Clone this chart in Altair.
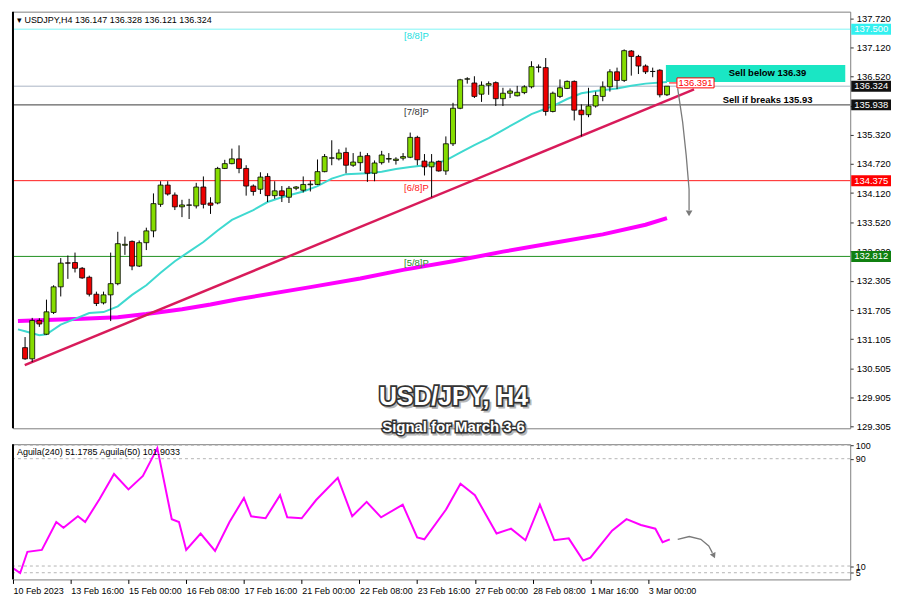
import altair as alt
import pandas as pd

# ---------------- data (H4 bars, index 0 = 10 Feb 2023 08:00) ----------------
bar_idx = list(range(1, 92))
opens = [130.930, 130.699, 131.491, 131.207, 131.656, 132.184, 132.679, 132.686, 132.567, 132.382,
         132.032, 131.854, 132.019, 132.250, 133.042, 133.122, 132.613, 133.095, 133.339, 133.887,
         134.284, 134.079, 133.835, 133.868, 133.854, 134.244, 133.914, 133.914, 134.627, 134.726,
         134.825, 134.627, 134.264, 134.198, 134.462, 134.066, 134.165, 134.033, 134.218, 134.178,
         134.291, 134.297, 134.561, 134.839, 134.825, 134.957, 134.693, 134.746, 134.891, 134.528,
         134.746, 134.819, 134.792, 134.839, 134.858, 135.268, 134.779, 134.660, 134.773, 134.575,
         135.136, 135.868, 136.469, 136.390, 136.159, 136.344, 136.397, 136.066, 136.179, 136.126,
         136.192, 136.311, 136.713, 136.707, 135.802, 136.113, 136.278, 136.423, 135.829, 135.736,
         135.915, 136.113, 136.311, 136.621, 136.443, 137.050, 136.938, 136.740, 136.628, 136.654,
         136.147]
highs = [131.148, 131.544, 131.537, 131.920, 132.217, 132.778, 132.831, 132.891, 132.593, 132.415,
         132.085, 132.085, 132.891, 133.320, 133.221, 133.141, 133.141, 133.405, 134.112, 134.363,
         134.363, 134.132, 133.980, 134.000, 134.330, 134.462, 134.033, 134.660, 134.805, 135.036,
         135.103, 134.693, 134.297, 134.548, 134.528, 134.363, 134.264, 134.264, 134.264, 134.462,
         134.377, 134.812, 134.924, 135.208, 135.023, 135.057, 134.944, 134.971, 134.944, 134.792,
         134.990, 134.944, 134.858, 134.944, 135.367, 135.301, 134.924, 134.924, 134.792, 135.288,
         135.981, 136.476, 136.509, 136.529, 136.423, 136.423, 136.423, 136.291, 136.278, 136.331,
         136.344, 136.839, 136.773, 136.905, 136.212, 136.463, 136.443, 136.443, 135.948, 136.291,
         136.212, 136.423, 136.674, 136.707, 137.083, 137.070, 136.971, 136.773, 136.707, 136.674,
         136.328]
lows = [130.679, 130.633, 131.359, 131.194, 131.623, 131.986, 132.349, 132.481, 132.349, 131.986,
        131.788, 131.821, 131.478, 132.217, 132.844, 132.527, 132.593, 132.943, 133.207, 133.835,
        134.066, 133.769, 133.623, 133.584, 133.802, 133.802, 133.689, 133.887, 134.614, 134.713,
        134.528, 134.066, 134.066, 134.099, 133.934, 134.000, 133.934, 133.914, 134.178, 134.132,
        134.152, 134.284, 134.548, 134.693, 134.792, 134.528, 134.660, 134.575, 134.350, 134.363,
        134.707, 134.746, 134.707, 134.792, 134.839, 134.693, 134.482, 134.033, 134.561, 134.495,
        135.090, 135.849, 136.377, 136.080, 136.000, 136.146, 135.915, 135.915, 136.080, 136.113,
        136.159, 136.278, 136.608, 135.717, 135.783, 136.080, 136.264, 135.617, 135.287, 135.684,
        135.882, 136.014, 136.212, 136.264, 136.410, 136.542, 136.575, 136.575, 136.509, 136.093,
        136.121]
closes = [130.699, 131.491, 131.418, 131.669, 132.184, 132.673, 132.673, 132.567, 132.369, 132.032,
          131.841, 132.019, 132.250, 133.075, 133.062, 132.613, 133.095, 133.339, 133.901, 134.284,
          134.099, 133.835, 133.874, 133.874, 134.244, 133.887, 133.868, 134.627, 134.726, 134.825,
          134.627, 134.264, 134.152, 134.449, 134.066, 134.165, 134.066, 134.218, 134.244, 134.297,
          134.304, 134.561, 134.872, 134.845, 134.944, 134.693, 134.759, 134.878, 134.528, 134.740,
          134.905, 134.832, 134.819, 134.872, 135.268, 134.806, 134.660, 134.759, 134.575, 135.136,
          135.869, 136.456, 136.476, 136.113, 136.344, 136.377, 136.066, 136.179, 136.225, 136.198,
          136.311, 136.727, 136.720, 135.802, 136.179, 136.291, 136.423, 135.829, 135.736, 135.915,
          136.132, 136.311, 136.621, 136.443, 137.057, 136.938, 136.740, 136.621, 136.628, 136.146,
          136.324]

# moving averages
ema_idx = [0, 1, 3, 4, 6, 8, 10, 12, 14, 16, 18, 20, 22, 24, 26, 28, 30, 33, 35, 37, 40, 42, 44, 46,
           49, 51, 53, 55, 58, 60, 62, 64, 66, 68, 70, 72, 75, 77, 79, 81, 84, 86, 88, 91]
ema_val = [131.306, 131.267, 131.187, 131.207, 131.405, 131.524, 131.643, 131.663, 131.782, 132.019,
           132.217, 132.475, 132.712, 132.910, 133.109, 133.346, 133.564, 133.768, 133.934, 134.033,
           134.152, 134.263, 134.416, 134.509, 134.529, 134.560, 134.614, 134.659, 134.707, 134.792,
           134.951, 135.109, 135.254, 135.420, 135.584, 135.749, 135.915, 136.060, 136.178, 136.224,
           136.278, 136.331, 136.377, 136.410]
sma_idx = [0, 5, 9, 14, 18, 23, 27, 31, 41, 48, 54, 61, 68, 75, 82, 88, 91]
sma_val = [131.479, 131.504, 131.524, 131.558, 131.623, 131.722, 131.821, 131.934, 132.178, 132.356,
           132.534, 132.712, 132.910, 133.089, 133.267, 133.465, 133.604]

# oscillator (Aguila)
osc_idx = [0, 1, 2, 4, 6, 7, 9, 10, 12, 14, 16, 18, 20, 22, 23, 24, 26, 28, 30, 32, 33, 35, 37, 38,
           40, 42, 45, 47, 49, 51, 54, 56, 57, 60, 62, 64, 67, 69, 71, 73, 75, 77, 79, 80, 83, 85,
           87, 89, 90, 91]
osc_val = [8.4, 4.8, 20.6, 22.0, 42.8, 38.5, 47.1, 42.8, 60.0, 78.6, 67.1, 77.1, 97.9, 44.9, 42.8,
           22.0, 34.2, 21.3, 42.8, 60.7, 47.1, 45.6, 62.8, 46.3, 45.6, 59.2, 75.7, 47.1, 57.8, 46.3,
           55.7, 31.3, 29.9, 52.1, 71.4, 62.8, 34.2, 37.8, 29.2, 55.7, 29.2, 30.6, 14.1, 16.3, 36.3,
           44.9, 40.6, 37.8, 27.7, 29.9]
osc_levels = [100, 90, 10, 5]

# levels
level_prices = [137.500, 136.324, 135.938, 134.375, 132.812]
level_colors = ["#7ff5f5", "#a9b4c4", "#3a3a3a", "#ff1a1a", "#1f8f1f"]
tag_colors = ["#33f0f0", "#111111", "#111111", "#ff0000", "#108010"]
murrey_names = ["[8/8]P", "[7/8]P", "[6/8]P", "[5/8]P"]
murrey_prices = [137.500, 135.938, 134.375, 132.812]
murrey_colors = ["#22dede", "#333333", "#ff2020", "#1f8f1f"]

trend_idx = [0.95, 94.8]
trend_val = [130.568, 136.258]

arrow_idx = [92.5, 93.2, 93.7, 94.1, 94.1]
arrow_val = [136.278, 135.584, 134.891, 134.198, 133.762]
arrow2_idx = [92.1, 93.7, 95.3, 96.4, 96.9]
arrow2_val = [29.9, 32.0, 29.9, 24.9, 19.8]

price_ticks = [137.720, 137.120, 136.520, 135.920, 135.320, 134.720, 134.120, 133.520, 132.920,
               132.305, 131.705, 131.105, 130.505, 129.905, 129.305]
date_ticks = [0, 8, 16, 24, 32, 40, 48, 56, 64, 72, 80, 88]
date_labels = ["10 Feb 2023", "13 Feb 16:00", "15 Feb 00:00", "16 Feb 08:00", "17 Feb 16:00",
               "21 Feb 00:00", "22 Feb 08:00", "23 Feb 16:00", "27 Feb 00:00", "28 Feb 08:00",
               "1 Mar 16:00", "3 Mar 00:00"]

# ---------------- layout ----------------
W = 842
H1 = 419
H2 = 136
FONT = "Liberation Sans"
xs = alt.Scale(domain=[0, 116], nice=False, zero=False)
ys = alt.Scale(domain=[129.266, 137.862], nice=False, zero=False)
os_ = alt.Scale(domain=[0, 100.8], nice=False, zero=False)

candles = pd.DataFrame({"i": bar_idx, "open": opens, "high": highs, "low": lows, "close": closes})
candles["col"] = ["#85dc00" if c >= o else "#ee0000" for o, c in zip(opens, closes)]

price_axis = alt.Axis(orient="right", values=price_ticks, format=".3f", labelFont=FONT,
                      labelFontSize=9.5, labelColor="black", tickColor="#333", tickSize=3,
                      domain=False, grid=False, title=None, labelOverlap=False, labelPadding=3,
                      labelBound=False)


def PY(field):
    return alt.Y(field, scale=ys, axis=price_axis)


X = alt.X("i:Q", scale=xs, axis=None)

levels_df = pd.DataFrame({"p": level_prices, "c": level_colors, "tc": tag_colors,
                          "t": [f"{v:.3f}" for v in level_prices]})
level_rules = alt.Chart(levels_df).mark_rule(strokeWidth=1).encode(
    y=PY("p:Q"), color=alt.Color("c:N", scale=None))

zone = alt.Chart(pd.DataFrame({"x1": [90.85], "x2": [116], "p1": [136.759], "p2": [136.410]})).mark_rect(
    color="#1ae6c4", clip=True).encode(x=alt.X("x1:Q", scale=xs, axis=None), x2="x2:Q",
                                        y=PY("p1:Q"), y2="p2:Q")

sma = alt.Chart(pd.DataFrame({"i": sma_idx, "v": sma_val})).mark_line(
    color="#ff00ff", strokeWidth=4).encode(x=X, y=PY("v:Q"))
ema = alt.Chart(pd.DataFrame({"i": ema_idx, "v": ema_val})).mark_line(
    color="#3fd9d0", strokeWidth=2).encode(x=X, y=PY("v:Q"))
trend = alt.Chart(pd.DataFrame({"i": trend_idx, "v": trend_val})).mark_line(
    color="#d81b5a", strokeWidth=2.5).encode(x=X, y=PY("v:Q"))

wicks = alt.Chart(candles).mark_rule(color="black", strokeWidth=1).encode(
    x=X, y=PY("low:Q"), y2="high:Q")
bodies = alt.Chart(candles).mark_bar(size=5, stroke="black", strokeWidth=0.8).encode(
    x=X, y=PY("open:Q"), y2="close:Q", color=alt.Color("col:N", scale=None))

murrey = alt.Chart(pd.DataFrame({"t": murrey_names, "p": murrey_prices, "c": murrey_colors,
                                 "i": [57.6] * 4})).mark_text(
    align="right", baseline="top", dy=2, font=FONT, fontSize=9.5).encode(
    x=X, y=PY("p:Q"), text="t:N", color=alt.Color("c:N", scale=None))

sell_df = pd.DataFrame({"t": ["Sell below 136.39", "Sell if breaks 135.93"],
                        "i": [105.1, 105.1], "p": [136.589, 136.034]})
sell_text = alt.Chart(sell_df).mark_text(font=FONT, fontSize=9.5, fontWeight="bold",
                                         color="black").encode(
    x=X, y=PY("p:Q"), text="t:N")

rbox = alt.Chart(pd.DataFrame({"x1": [92.4], "x2": [97.6], "p1": [136.495], "p2": [136.289]})).mark_rect(
    fill="white", stroke="#ff0000", strokeWidth=1).encode(
    x=alt.X("x1:Q", scale=xs, axis=None), x2="x2:Q", y=PY("p1:Q"), y2="p2:Q")
rline = alt.Chart(pd.DataFrame({"x1": [91.3], "x2": [92.4], "p": [136.391]})).mark_rule(
    color="#ff0000", strokeWidth=1).encode(x=alt.X("x1:Q", scale=xs, axis=None), x2="x2:Q",
                                           y=PY("p:Q"))
rtext = alt.Chart(pd.DataFrame({"i": [95.0], "p": [136.392], "t": ["136.391"]})).mark_text(
    font=FONT, fontSize=9.5, color="#ff0000").encode(x=X, y=PY("p:Q"), text="t:N")

arrow = alt.Chart(pd.DataFrame({"i": arrow_idx, "v": arrow_val, "o": range(5)})).mark_line(
    color="#7a7a7a", strokeWidth=1.3).encode(x=X, y=PY("v:Q"), order="o:Q")
arrow_head = alt.Chart(pd.DataFrame({"i": [94.1], "v": [133.70]})).mark_point(
    shape="triangle-down", filled=True, size=45, color="#7a7a7a", opacity=1).encode(
    x=X, y=PY("v:Q"))

tags = alt.Chart(levels_df).mark_tick(orient="horizontal", thickness=11, size=40, clip=False,
                                      opacity=1).encode(
    x=alt.value(W + 21), y=PY("p:Q"), color=alt.Color("tc:N", scale=None))
tag_text = alt.Chart(levels_df).mark_text(align="left", font=FONT, fontSize=9.5, color="white").encode(
    x=alt.value(W + 4), y=PY("p:Q"), text="t:N")

one = pd.DataFrame({"a": [0]})
header = alt.Chart(one).mark_text(align="left", baseline="middle", font=FONT, fontSize=9,
                                  color="black").encode(
    x=alt.value(4), y=alt.value(8),
    text=alt.value("\u25be USDJPY,H4  136.147 136.328 136.121 136.324"))
left_frame = alt.Chart(one).mark_rule(color="black", strokeWidth=2).encode(
    x=alt.value(0), y=alt.value(0), y2=alt.value(H1))

TX = 443
title_shadow = alt.Chart(one).mark_text(font=FONT, fontSize=25, fontWeight="bold", color="#9a9a9a",
                                        opacity=0.7, stroke="#9a9a9a", strokeWidth=3).encode(
    x=alt.value(TX + 2), y=alt.value(390), text=alt.value("USD/JPY, H4"))
title_stroke = alt.Chart(one).mark_text(font=FONT, fontSize=25, fontWeight="bold", color="#333",
                                        stroke="#333", strokeWidth=3.5).encode(
    x=alt.value(TX), y=alt.value(388), text=alt.value("USD/JPY, H4"))
title_fill = alt.Chart(one).mark_text(font=FONT, fontSize=25, fontWeight="bold", color="white").encode(
    x=alt.value(TX), y=alt.value(388), text=alt.value("USD/JPY, H4"))
sub_shadow = alt.Chart(one).mark_text(font=FONT, fontSize=15, fontWeight="bold", color="#9a9a9a",
                                      opacity=0.7, stroke="#9a9a9a", strokeWidth=3).encode(
    x=alt.value(TX + 1.5), y=alt.value(419.5), text=alt.value("Signal for March 3-6"))
sub_stroke = alt.Chart(one).mark_text(font=FONT, fontSize=15, fontWeight="bold", color="#333",
                                      stroke="#333", strokeWidth=3).encode(
    x=alt.value(TX), y=alt.value(418), text=alt.value("Signal for March 3-6"))
sub_fill = alt.Chart(one).mark_text(font=FONT, fontSize=15, fontWeight="bold", color="white").encode(
    x=alt.value(TX), y=alt.value(418), text=alt.value("Signal for March 3-6"))

main = alt.layer(level_rules, zone, sma, ema, trend, wicks, bodies, murrey, sell_text, rline, rbox,
                 rtext, arrow, arrow_head, tags, tag_text, header, left_frame,
                 title_shadow, title_stroke, title_fill, sub_shadow, sub_stroke, sub_fill).properties(
    width=W, height=H1)

# ---------------- oscillator panel ----------------
label_expr = "[" + ",".join(f"'{s}'" for s in date_labels) + "][round(datum.value/8)]"
x_axis = alt.Axis(values=date_ticks, labelExpr=label_expr, labelAlign="left", labelPadding=3,
                  labelFont=FONT, labelFontSize=9, labelColor="black", tickSize=4, tickColor="black",
                  domain=False, grid=False, title=None, labelFlush=False, labelOverlap=False)
osc_axis = alt.Axis(orient="right", values=osc_levels, format="d", labelFont=FONT, labelFontSize=9,
                    labelColor="black", tickSize=3, tickColor="#333", domain=False, grid=False,
                    title=None, labelOverlap=False, labelPadding=2)


def OY(field):
    return alt.Y(field, scale=os_, axis=osc_axis)


OX = alt.X("i:Q", scale=xs, axis=x_axis)

osc_rules = alt.Chart(pd.DataFrame({"v": osc_levels})).mark_rule(
    color="#b4b4b4", strokeDash=[3, 3], strokeWidth=1).encode(y=OY("v:Q"))
osc_line = alt.Chart(pd.DataFrame({"i": osc_idx, "v": osc_val})).mark_line(
    color="#ff00ff", strokeWidth=2).encode(x=OX, y=OY("v:Q"))
arrow2 = alt.Chart(pd.DataFrame({"i": arrow2_idx, "v": arrow2_val, "o": range(5)})).mark_line(
    color="#7a7a7a", strokeWidth=1.3).encode(x=OX, y=OY("v:Q"), order="o:Q")
arrow2_head = alt.Chart(pd.DataFrame({"i": [97.1], "v": [17.7]})).mark_point(
    shape="triangle-up", angle=155, filled=True, size=40, color="#7a7a7a", opacity=1).encode(
    x=OX, y=OY("v:Q"))
osc_header = alt.Chart(one).mark_text(align="left", baseline="middle", font=FONT, fontSize=9,
                                      color="black").encode(
    x=alt.value(4), y=alt.value(8), text=alt.value("Aguila(240) 51.1785  Aguila(50) 101.9033"))
left_frame2 = alt.Chart(one).mark_rule(color="black", strokeWidth=2).encode(
    x=alt.value(0), y=alt.value(0), y2=alt.value(H2))

osc = alt.layer(osc_rules, osc_line, arrow2, arrow2_head, osc_header, left_frame2).properties(
    width=W, height=H2)

chart = alt.vconcat(main, osc, spacing=3).properties(
    padding={"left": 0, "top": 0, "right": 0, "bottom": 0}, background="white"
).configure_view(stroke="#7f7f7f", strokeWidth=1).configure_axis(labelOverlap=False)

chart.save("out.html", embed_options={"renderer": "svg", "actions": False})
